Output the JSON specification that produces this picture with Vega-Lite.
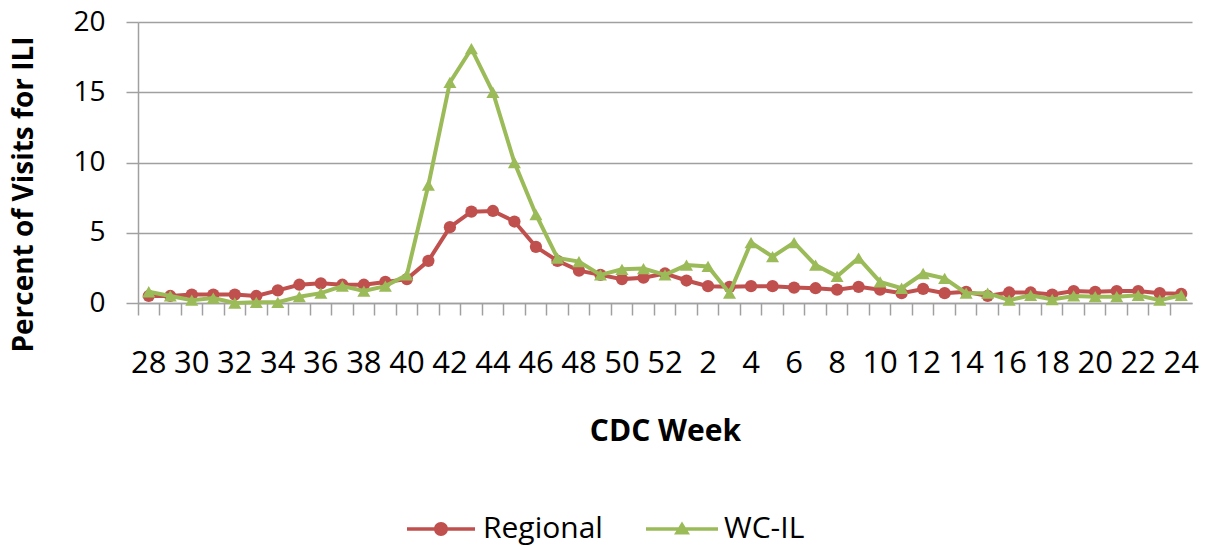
{
  "$schema": "https://vega.github.io/schema/vega-lite/v6.json",
  "width": 1054,
  "height": 281,
  "autosize": "none",
  "padding": {"left": 138, "top": 22, "right": 17, "bottom": 243},
  "background": "white",
  "config": {"view": {"stroke": null}, "font": "Open Sans"},
  "data": {
    "values": [
      {"week": "28", "series": "Regional", "value": 0.5},
      {"week": "29", "series": "Regional", "value": 0.5},
      {"week": "30", "series": "Regional", "value": 0.6},
      {"week": "31", "series": "Regional", "value": 0.6},
      {"week": "32", "series": "Regional", "value": 0.6},
      {"week": "33", "series": "Regional", "value": 0.5},
      {"week": "34", "series": "Regional", "value": 0.9},
      {"week": "35", "series": "Regional", "value": 1.3},
      {"week": "36", "series": "Regional", "value": 1.4},
      {"week": "37", "series": "Regional", "value": 1.3},
      {"week": "38", "series": "Regional", "value": 1.3},
      {"week": "39", "series": "Regional", "value": 1.5},
      {"week": "40", "series": "Regional", "value": 1.7},
      {"week": "41", "series": "Regional", "value": 3.0},
      {"week": "42", "series": "Regional", "value": 5.4},
      {"week": "43", "series": "Regional", "value": 6.5},
      {"week": "44", "series": "Regional", "value": 6.55},
      {"week": "45", "series": "Regional", "value": 5.8},
      {"week": "46", "series": "Regional", "value": 4.0},
      {"week": "47", "series": "Regional", "value": 3.0},
      {"week": "48", "series": "Regional", "value": 2.3},
      {"week": "49", "series": "Regional", "value": 2.0},
      {"week": "50", "series": "Regional", "value": 1.7},
      {"week": "51", "series": "Regional", "value": 1.8},
      {"week": "52", "series": "Regional", "value": 2.1},
      {"week": "1", "series": "Regional", "value": 1.6},
      {"week": "2", "series": "Regional", "value": 1.2},
      {"week": "3", "series": "Regional", "value": 1.15},
      {"week": "4", "series": "Regional", "value": 1.2},
      {"week": "5", "series": "Regional", "value": 1.2},
      {"week": "6", "series": "Regional", "value": 1.1},
      {"week": "7", "series": "Regional", "value": 1.05},
      {"week": "8", "series": "Regional", "value": 0.95},
      {"week": "9", "series": "Regional", "value": 1.15},
      {"week": "10", "series": "Regional", "value": 0.95},
      {"week": "11", "series": "Regional", "value": 0.7},
      {"week": "12", "series": "Regional", "value": 1.0},
      {"week": "13", "series": "Regional", "value": 0.7},
      {"week": "14", "series": "Regional", "value": 0.8},
      {"week": "15", "series": "Regional", "value": 0.5},
      {"week": "16", "series": "Regional", "value": 0.75},
      {"week": "17", "series": "Regional", "value": 0.75},
      {"week": "18", "series": "Regional", "value": 0.6},
      {"week": "19", "series": "Regional", "value": 0.85},
      {"week": "20", "series": "Regional", "value": 0.8},
      {"week": "21", "series": "Regional", "value": 0.85},
      {"week": "22", "series": "Regional", "value": 0.85},
      {"week": "23", "series": "Regional", "value": 0.7},
      {"week": "24", "series": "Regional", "value": 0.65},
      {"week": "28", "series": "WC-IL", "value": 0.8},
      {"week": "29", "series": "WC-IL", "value": 0.5},
      {"week": "30", "series": "WC-IL", "value": 0.2},
      {"week": "31", "series": "WC-IL", "value": 0.35},
      {"week": "32", "series": "WC-IL", "value": 0.0},
      {"week": "33", "series": "WC-IL", "value": 0.05},
      {"week": "34", "series": "WC-IL", "value": 0.05},
      {"week": "35", "series": "WC-IL", "value": 0.45},
      {"week": "36", "series": "WC-IL", "value": 0.7},
      {"week": "37", "series": "WC-IL", "value": 1.2},
      {"week": "38", "series": "WC-IL", "value": 0.85},
      {"week": "39", "series": "WC-IL", "value": 1.2},
      {"week": "40", "series": "WC-IL", "value": 2.0},
      {"week": "41", "series": "WC-IL", "value": 8.4},
      {"week": "42", "series": "WC-IL", "value": 15.7},
      {"week": "43", "series": "WC-IL", "value": 18.1},
      {"week": "44", "series": "WC-IL", "value": 15.0},
      {"week": "45", "series": "WC-IL", "value": 10.0},
      {"week": "46", "series": "WC-IL", "value": 6.3},
      {"week": "47", "series": "WC-IL", "value": 3.2},
      {"week": "48", "series": "WC-IL", "value": 2.95},
      {"week": "49", "series": "WC-IL", "value": 2.0},
      {"week": "50", "series": "WC-IL", "value": 2.4},
      {"week": "51", "series": "WC-IL", "value": 2.45},
      {"week": "52", "series": "WC-IL", "value": 2.0},
      {"week": "1", "series": "WC-IL", "value": 2.7},
      {"week": "2", "series": "WC-IL", "value": 2.6},
      {"week": "3", "series": "WC-IL", "value": 0.7},
      {"week": "4", "series": "WC-IL", "value": 4.3},
      {"week": "5", "series": "WC-IL", "value": 3.3},
      {"week": "6", "series": "WC-IL", "value": 4.3},
      {"week": "7", "series": "WC-IL", "value": 2.7},
      {"week": "8", "series": "WC-IL", "value": 1.9},
      {"week": "9", "series": "WC-IL", "value": 3.2},
      {"week": "10", "series": "WC-IL", "value": 1.5},
      {"week": "11", "series": "WC-IL", "value": 1.05},
      {"week": "12", "series": "WC-IL", "value": 2.1},
      {"week": "13", "series": "WC-IL", "value": 1.75},
      {"week": "14", "series": "WC-IL", "value": 0.7},
      {"week": "15", "series": "WC-IL", "value": 0.7},
      {"week": "16", "series": "WC-IL", "value": 0.2},
      {"week": "17", "series": "WC-IL", "value": 0.55},
      {"week": "18", "series": "WC-IL", "value": 0.25},
      {"week": "19", "series": "WC-IL", "value": 0.5},
      {"week": "20", "series": "WC-IL", "value": 0.45},
      {"week": "21", "series": "WC-IL", "value": 0.45},
      {"week": "22", "series": "WC-IL", "value": 0.55},
      {"week": "23", "series": "WC-IL", "value": 0.2},
      {"week": "24", "series": "WC-IL", "value": 0.55}
    ]
  },
  "encoding": {
    "x": {
      "field": "week",
      "type": "ordinal",
      "scale": {
        "type": "band",
        "domain": ["28","29","30","31","32","33","34","35","36","37","38","39","40","41","42","43","44","45","46","47","48","49","50","51","52","1","2","3","4","5","6","7","8","9","10","11","12","13","14","15","16","17","18","19","20","21","22","23","24"],
        "paddingInner": 0,
        "paddingOuter": 0
      },
      "axis": {
        "title": "CDC Week",
        "bandPosition": 0,
        "labelOffset": 0,
        "labelExpr": "toNumber(datum.value) % 2 == 0 ? datum.label : ''",
        "labelAngle": 0,
        "labelOverlap": false,
        "labelFont": "Open Sans",
        "labelFontSize": 31,
        "labelColor": "#000000",
        "labelBaseline": "alphabetic",
        "labelPadding": 57,
        "tickSize": 12,
        "tickColor": "#a0a0a0",
        "tickWidth": 1.5,
        "domainColor": "#a0a0a0",
        "domainWidth": 1.5,
        "grid": false,
        "titleFont": "Open Sans",
        "titleFontSize": 30,
        "titleFontWeight": "bold",
        "titleColor": "#000000",
        "titleBaseline": "alphabetic",
        "titleAlign": "center",
        "titleX": 527,
        "titleY": 137
      }
    },
    "y": {
      "field": "value",
      "type": "quantitative",
      "scale": {"domain": [0, 20]},
      "axis": {
        "title": "Percent of Visits for ILI",
        "values": [0, 5, 10, 15, 20],
        "grid": true,
        "gridColor": "#a0a0a0",
        "gridWidth": 1.5,
        "domainColor": "#a0a0a0",
        "domainWidth": 1.5,
        "tickColor": "#a0a0a0",
        "tickSize": 12,
        "tickWidth": 1.5,
        "labelFont": "Open Sans",
        "labelFontSize": 28,
        "labelColor": "#000000",
        "labelPadding": 21,
        "titleFont": "Open Sans",
        "titleFontSize": 28,
        "titleFontWeight": "bold",
        "titleColor": "#000000",
        "titleAngle": -90,
        "titleAlign": "center",
        "titleBaseline": "alphabetic",
        "titleX": -106,
        "titleY": 172
      }
    },
    "color": {
      "field": "series",
      "type": "nominal",
      "scale": {"domain": ["Regional", "WC-IL"], "range": ["#C0504D", "#9BBB59"]},
      "legend": {
        "orient": "none",
        "legendX": 288,
        "legendY": 492,
        "direction": "horizontal",
        "title": null,
        "padding": 0,
        "labelFont": "Open Sans",
        "labelFontSize": 30,
        "labelColor": "#000000",
        "symbolSize": 400,
        "labelOffset": 27,
        "columnPadding": 43,
        "encode": {
          "symbols": {
            "update": {
              "shape": {"signal": "datum.value == 'Regional' ? 'M-3.4,-0.18H3.4V0.18H-3.4Z M-0.7,0A0.7,0.7 0 1,1 0.7,0A0.7,0.7 0 1,1 -0.7,0Z' : 'M-3.6,-0.18H3.6V0.18H-3.6Z M0,-0.75L0.8,0.55L-0.8,0.55Z'"},
              "fill": {"signal": "datum.value == 'Regional' ? '#C0504D' : '#9BBB59'"},
              "strokeWidth": {"value": 0},
              "opacity": {"value": 1}
            }
          }
        }
      }
    }
  },
  "layer": [
    {"transform": [{"filter": "datum.series == 'Regional'"}], "mark": {"type": "line", "strokeWidth": 4}},
    {"transform": [{"filter": "datum.series == 'Regional'"}], "mark": {"type": "point", "shape": "circle", "filled": true, "size": 150, "opacity": 1}},
    {"transform": [{"filter": "datum.series == 'WC-IL'"}], "mark": {"type": "line", "strokeWidth": 4}},
    {"transform": [{"filter": "datum.series == 'WC-IL'"}], "mark": {"type": "point", "shape": "triangle-up", "filled": true, "size": 170, "opacity": 1}}
  ]
}
